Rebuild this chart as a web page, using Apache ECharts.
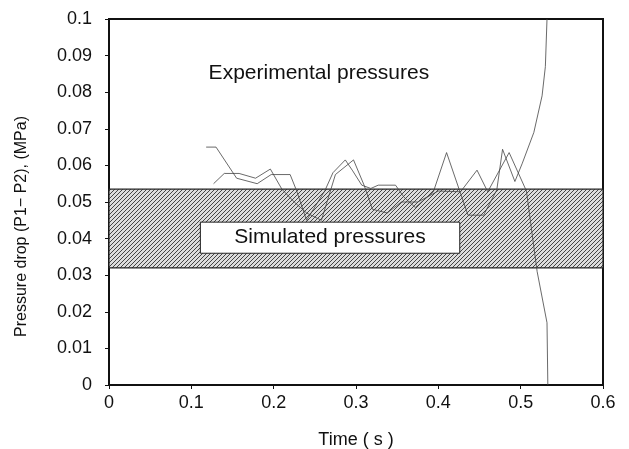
<!DOCTYPE html>
<html>
<head>
<meta charset="utf-8">
<script src="https://cdn.jsdelivr.net/npm/echarts@6/dist/echarts.min.js"></script>
<style>
html,body{margin:0;padding:0;background:#fff;}
#chart{width:629px;height:449px;}
</style>
</head>
<body>
<div id="chart"></div>
<script>
// ---- data ----
var xTicks = [0, 0.1, 0.2, 0.3, 0.4, 0.5, 0.6];
var yTicks = [0, 0.01, 0.02, 0.03, 0.04, 0.05, 0.06, 0.07, 0.08, 0.09, 0.1];
var simulatedBand = [0.032, 0.0535];   // simulated pressure range (MPa)
var exp1Time = [0.118,0.130,0.155,0.180,0.197,0.220,0.228,0.240,0.262,0.272,0.287,0.296,0.307,0.318,0.327,0.348,0.358,0.372,0.394,0.410,0.436,0.455,0.471,0.478,0.493,0.502,0.516,0.526,0.530,0.532];
var exp1Pres = [0.065,0.065,0.0565,0.055,0.0575,0.0575,0.053,0.045,0.053,0.058,0.0615,0.0585,0.0546,0.0537,0.0546,0.0546,0.0514,0.0485,0.0528,0.0635,0.0464,0.0464,0.0533,0.0644,0.0556,0.0606,0.069,0.079,0.087,0.100];
var exp2Time = [0.127,0.140,0.158,0.178,0.196,0.210,0.225,0.240,0.258,0.275,0.297,0.310,0.320,0.338,0.355,0.375,0.400,0.427,0.447,0.460,0.486,0.507,0.520,0.532,0.533];
var exp2Pres = [0.055,0.0578,0.0578,0.0565,0.059,0.0535,0.050,0.047,0.045,0.0575,0.0615,0.0545,0.048,0.047,0.050,0.050,0.053,0.0528,0.0587,0.0528,0.0635,0.053,0.031,0.017,0.0];

function zip(a, b){ return a.map(function(v,i){ return [v, b[i]]; }); }

// hatch pattern
var pc = document.createElement('canvas');
pc.width = 4; pc.height = 4;
var g = pc.getContext('2d');
g.fillStyle = '#dcdcdc'; g.fillRect(0,0,4,4);
g.strokeStyle = '#444'; g.lineWidth = 1;
g.beginPath();
g.moveTo(-1,5); g.lineTo(5,-1);
g.moveTo(-1,1); g.lineTo(1,-1);
g.moveTo(3,5); g.lineTo(5,3);
g.stroke();

var fmt = function(v){ return String(parseFloat(Number(v).toFixed(3))); };
var font = '"Liberation Sans", Arial, sans-serif';

var chart = echarts.init(document.getElementById('chart'));
chart.setOption({
  animation: false,
  backgroundColor: '#fff',
  grid: { left: 109, right: 26, top: 19, bottom: 64, outerBoundsMode: 'none', containLabel: false, show: true, borderColor: '#111', borderWidth: 2, backgroundColor: 'transparent' },
  xAxis: {
    type: 'value', min: xTicks[0], max: xTicks[xTicks.length-1], interval: 0.1,
    axisLine: { lineStyle: { color: '#111', width: 2 } },
    axisTick: { show: true, inside: false, length: 4, lineStyle: { color: '#111' } },
    axisLabel: { formatter: fmt, color: '#111', fontSize: 18, fontFamily: font, margin: 9 },
    splitLine: { show: false },
    name: 'Time ( s )', nameLocation: 'middle', nameGap: 46,
    nameTextStyle: { color: '#111', fontSize: 18, fontFamily: font }
  },
  yAxis: {
    type: 'value', min: yTicks[0], max: yTicks[yTicks.length-1], interval: 0.01,
    axisLine: { lineStyle: { color: '#111', width: 2 } },
    axisTick: { show: true, inside: false, length: 4, lineStyle: { color: '#111' } },
    axisLabel: { formatter: fmt, color: '#111', fontSize: 18, fontFamily: font, margin: 17 },
    splitLine: { show: false }
  },
  graphic: [{
    type: 'text', left: 14, top: 116, rotation: Math.PI/2,
    style: { text: 'Pressure drop (P1\u2212 P2), (MPa)', fill: '#111', font: '16px ' + font }
  }],
  series: [
    {
      type: 'line', data: [], z: 1, silent: true,
      markArea: {
        silent: true,
        itemStyle: { color: { image: pc, repeat: 'repeat' }, borderColor: '#222', borderWidth: 1.2 },
        data: [[{ xAxis: xTicks[0], yAxis: simulatedBand[0] }, { xAxis: xTicks[xTicks.length-1], yAxis: simulatedBand[1] }]]
      }
    },
    {
      type: 'line', data: [], z: 2, silent: true,
      markArea: {
        silent: true,
        itemStyle: { color: '#fff', borderColor: '#222', borderWidth: 1 },
        label: { show: true, position: 'inside', color: '#111', fontSize: 21, fontFamily: font },
        data: [[{ name: 'Simulated pressures', xAxis: 0.111, yAxis: 0.0445 }, { xAxis: 0.426, yAxis: 0.036 }]]
      },
      markPoint: {
        symbol: 'rect', symbolSize: 0, silent: true,
        label: { show: true, formatter: 'Experimental pressures', color: '#111', fontSize: 21, fontFamily: font, position: 'right', distance: 0 },
        data: [{ coord: [0.121, 0.0852] }]
      }
    },
    {
      type: 'line', data: zip(exp1Time, exp1Pres), z: 3, symbol: 'none',
      lineStyle: { color: '#444', width: 0.8 }
    },
    {
      type: 'line', data: zip(exp2Time, exp2Pres), z: 3, symbol: 'none',
      lineStyle: { color: '#444', width: 0.8 }
    }
  ]
});
</script>
</body>
</html>
